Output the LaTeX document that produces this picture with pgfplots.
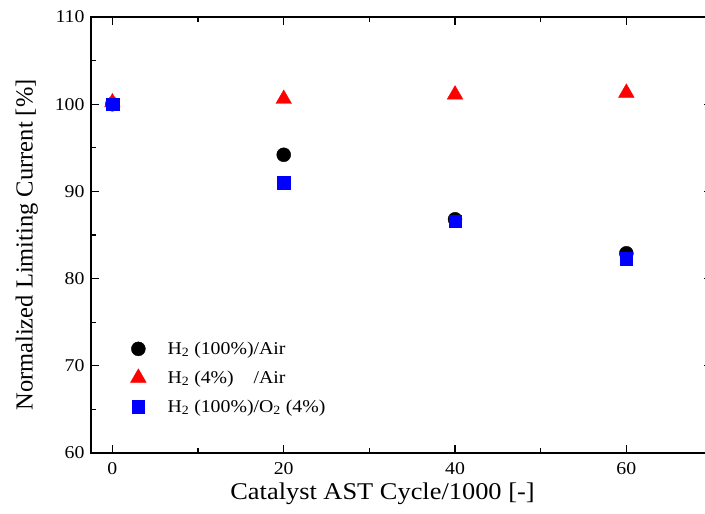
\documentclass[border=0pt]{standalone}
\usepackage{pgfplots}
\pgfplotsset{compat=1.18}
\usepackage{fontspec}
\setmainfont[FakeStretch=1.1]{Liberation Serif}
\newfontfamily\plainserif{Liberation Serif}
\definecolor{myred}{RGB}{255,0,0}
\definecolor{myblue}{RGB}{0,0,255}
\pgfplotsset{myleg/.style={legend image code/.code={\path (0pt,-1pt) (35pt,1pt); \draw[mark repeat=2,mark phase=2,##1] plot coordinates {(0pt,0pt)(8pt,0pt)(35pt,0pt)};}}}
\begin{document}
\begin{tikzpicture}[x=1pt,y=1pt]
\useasboundingbox (0,0) rectangle (705,514);
\begin{axis}[
  at={(91pt,61pt)}, anchor=south west,
  scale only axis, width=621pt, height=436pt,
  xmin=-2.5, xmax=70, ymin=60, ymax=110,
  xtick={0,20,40,60}, minor xtick={10,30,50},
  ytick={60,70,...,110}, minor ytick={65,75,...,105},
  tick align=inside, major tick length=8pt, minor tick length=5pt,
  axis line style={line width=1.6pt},
  every tick/.style={line width=1.2pt, black},
  /pgf/number format/assume math mode=true,
  ticklabel style={font=\fontsize{18}{18}\selectfont},
  xticklabel style={yshift=-6pt},
  yticklabel style={xshift=-3pt},
  xlabel={Catalyst AST Cycle/1000 [-]},
  ylabel={Normalized Limiting Current [\%]},
  xlabel style={font=\fontsize{24}{24}\selectfont, yshift=-1pt, xshift=-19pt},
  ylabel style={font=\plainserif\fontsize{24.5}{24.5}\selectfont, yshift=10pt, xshift=-10pt},
  legend style={draw=none, fill=none, at={(axis cs:2.05,73.0)}, anchor=north west,
    font=\fontsize{18}{18}\selectfont, row sep=11pt, inner sep=0pt},
  legend cell align=left,
]
\addplot[only marks, mark=*, mark size=7pt, black, myleg] coordinates {(0,100) (20,94.2) (40,86.8) (60,82.9)};
\addlegendentry{H\textsubscript{2} (100\%)/Air}
\addplot[only marks, mark=triangle*, mark size=9pt, myred, draw=myred, myleg] coordinates {(0,100.2) (20,100.6) (40,101.1) (60,101.3)};
\addlegendentry{H\textsubscript{2} (4\%)\ \ \ \ /Air}
\addplot[only marks, mark=square*, mark size=6.3pt, myblue, myleg] coordinates {(0,100) (20,91.0) (40,86.6) (60,82.3)};
\addlegendentry{H\textsubscript{2} (100\%)/O\textsubscript{2} (4\%)}
\end{axis}
\end{tikzpicture}
\end{document}
